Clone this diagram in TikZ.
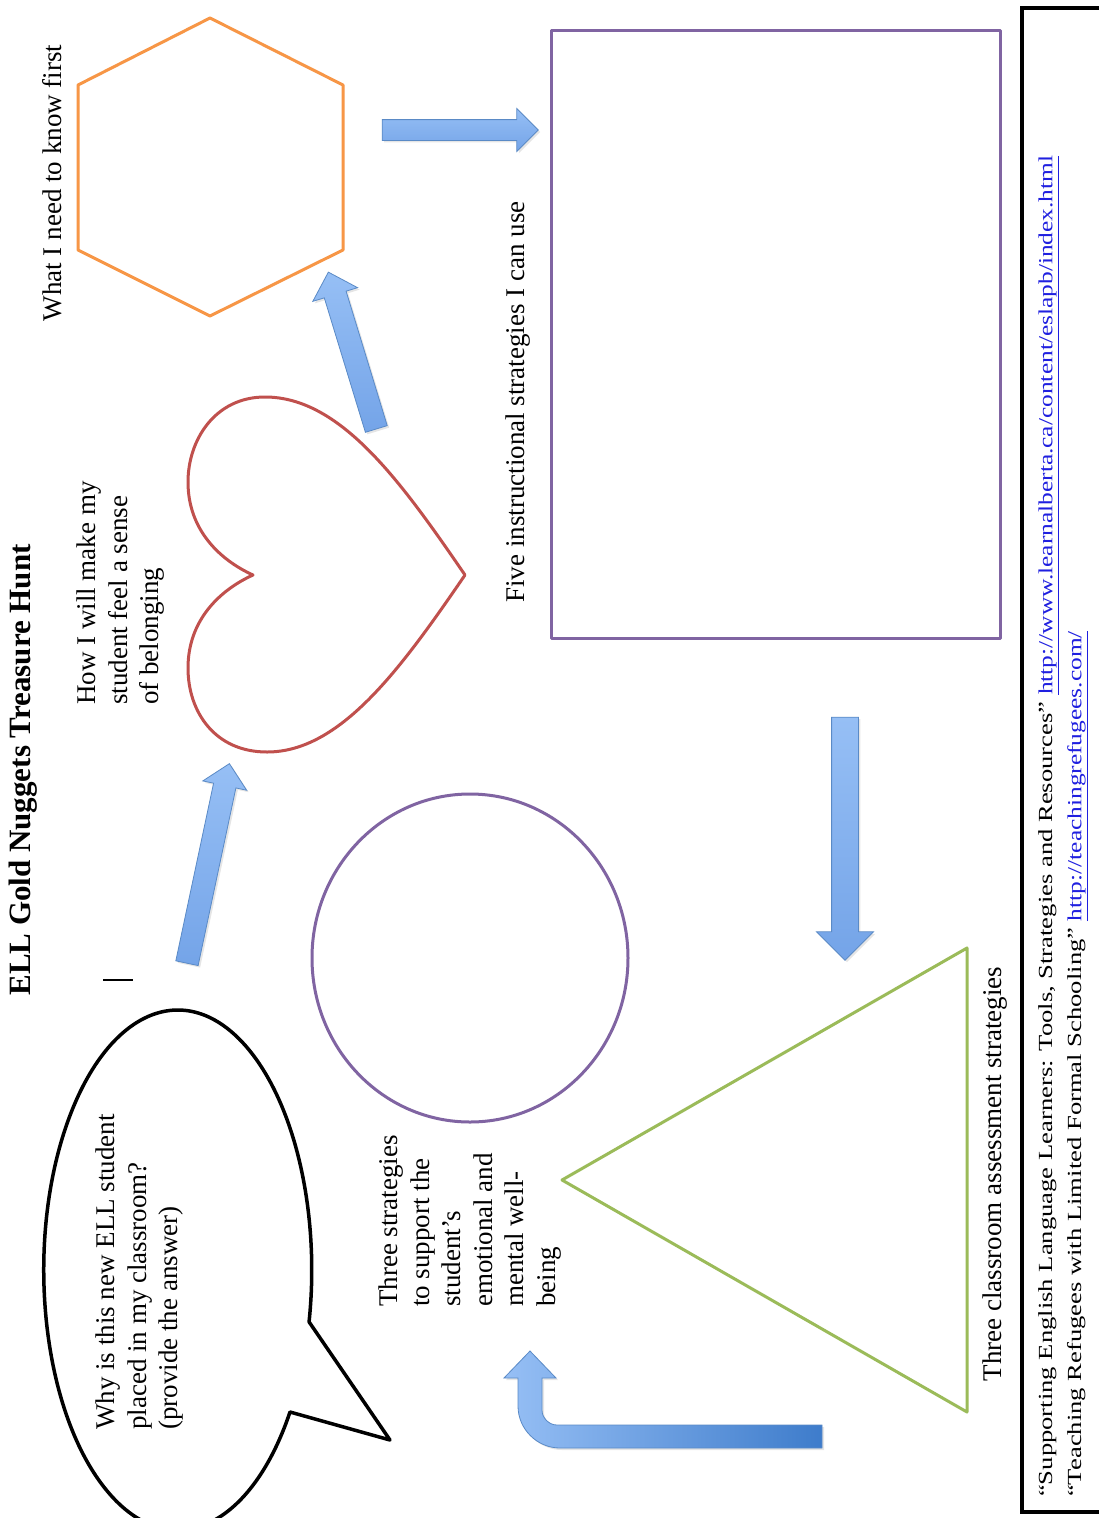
\documentclass[tikz,border=0pt]{standalone}
\usepackage{fontspec}
\setmainfont{Liberation Serif}
\newfontfamily\notefont[FakeStretch=1.33]{Liberation Serif}
\newfontfamily\linkfont[FakeStretch=1.27]{Liberation Serif}
\usetikzlibrary{shapes.arrows,shadows}
\definecolor{hexorange}{HTML}{F79646}
\definecolor{heartred}{HTML}{C0504D}
\definecolor{boxpurple}{HTML}{8064A2}
\definecolor{trigreen}{HTML}{9BBB59}
\definecolor{arrowlight}{HTML}{96BFF5}
\definecolor{arrowdark}{HTML}{74A4E8}
\definecolor{arrowdeep}{HTML}{3E7CCB}
\definecolor{arrowline}{HTML}{5A8AC6}
\definecolor{linkblue}{HTML}{1F1FE0}
\newcommand{\weblink}[1]{{\linkfont\color{linkblue}\underline{#1}}}
\begin{document}
\begin{tikzpicture}[x=1pt, y=-1pt,
  every node/.style={font=\fontsize{27}{31.5}\selectfont},
  txt/.style={rotate=90, inner sep=0pt},
  outline/.style={line width=3pt, line join=round},
  blockarrow/.style 2 args={single arrow, draw=arrowline, line width=0.8pt,
    top color=arrowlight, bottom color=arrowdark, inner xsep=0pt, inner ysep=#1,
    text height=0pt, text depth=0pt, single arrow head extend=#2,
    drop shadow={opacity=0.2, shadow xshift=2pt, shadow yshift=-2pt}}]
  \path[fill=white, use as bounding box] (0,0) rectangle (1098,1518);
  % shapes
  \draw[outline, hexorange] (210,18) -- (343,85) -- (343,250) -- (210,316) -- (78,250) -- (78,85) -- cycle;
  \draw[outline, heartred] (465,575) .. controls (400,480) and (340,397) .. (265,397)
    .. controls (215,397) and (188,440) .. (188,482) .. controls (188,530) and (220,560) .. (253,575)
    .. controls (220,590) and (188,620) .. (188,668) .. controls (188,712) and (215,752) .. (267,752)
    .. controls (340,752) and (400,670) .. (465,575) -- cycle;
  \draw[outline, boxpurple] (551,30) rectangle (1000,638);
  \draw[outline, boxpurple] (470,958) ellipse[x radius=158, y radius=164];
  \draw[outline, trigreen] (967,948) -- (967,1412) -- (562,1180) -- cycle;
  \draw[outline, black, line width=3.5pt] (290,1412) arc[start angle=33.1, end angle=371.5, x radius=134, y radius=260] -- (390,1440) -- cycle;
  \draw[black, line width=2pt] (103,980) -- (133,980);
  \draw[black, line width=3.5pt] (1022,8) rectangle (1120,1512);
  % labels
  \node[txt, font=\fontsize{31}{37}\selectfont\bfseries] (title) at (23,770) {ELL Gold Nuggets Treasure Hunt};
  \node[txt] (hextext) at (52,183) {What I need to know first};
  \node[txt, anchor=west, align=left] (hearttext) at (121,705) {How I will make my\\student feel a sense\\of belonging};
  \node[txt, anchor=west, align=left] (bubbletext) at (140,1430) {Why is this new ELL student\\placed in my classroom?\\(provide the answer)};
  \node[txt, anchor=west, align=left] (circletext) at (470,1307) {Three strategies\\to support the\\student’s\\emotional and\\mental well-\\being};
  \node[txt] (boxtext) at (518,402) {Five instructional strategies I can use};
  \node[txt] (tritext) at (995,1174) {Three classroom assessment strategies};
  \node[txt, anchor=west, align=left, font={\notefont\fontsize{20}{29}\selectfont}] (refs) at (1063,1497)
    {“Supporting English Language Learners: Tools, Strategies and Resources” \weblink{http://www.learnalberta.ca/content/eslapb/index.html}\\
     “Teaching Refugees with Limited Formal Schooling” \weblink{http://teachingrefugees.com/}};
  % arrows
  \node[blockarrow={11pt}{11pt}, rotate=78, minimum height=204pt] (arrowheart) at (207,869) {};
  \node[blockarrow={11pt}{12pt}, rotate=107, minimum height=164pt] (arrowhex) at (354,356) {};
  \node[blockarrow={10pt}{11pt}, minimum height=156pt] (arrowbox) at (455,130) {};
  \node[blockarrow={13pt}{15pt}, rotate=-90, minimum height=243pt] (arrowtri) at (845,832) {};
  \path[draw=arrowline, line width=0.8pt, left color=arrowlight, right color=arrowdeep,
    drop shadow={opacity=0.2, shadow xshift=2pt, shadow yshift=-2pt}]
    (822,1448) -- (560,1448) .. controls (537,1448) and (518,1429) .. (518,1406) -- (518,1378)
    -- (504,1378) -- (530,1351) -- (556,1378) -- (542,1378) -- (542,1410)
    .. controls (542,1418) and (549,1425) .. (557,1425) -- (822,1425) -- cycle;
\end{tikzpicture}
\end{document}
